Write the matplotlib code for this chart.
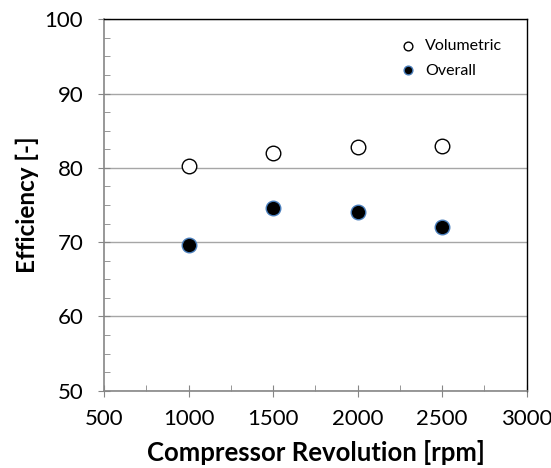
import matplotlib.pyplot as plt
from matplotlib.ticker import MultipleLocator

# data
rpm = [1000, 1500, 2000, 2500]
volumetric = [80.3, 82.0, 82.8, 83.0]
overall = [69.6, 74.6, 74.1, 72.1]

plt.rcParams['font.family'] = ['Lato', 'DejaVu Sans']

fig = plt.figure(figsize=(5.51, 4.68), dpi=100)
ax = fig.add_axes([0.189, 0.165, 0.767, 0.794])

ax.scatter(rpm, volumetric, s=110, facecolor='white', edgecolor='black',
           linewidth=1.0, label='Volumetric', zorder=3)
ax.scatter(rpm, overall, s=110, facecolor='black', edgecolor='#4a7ebb',
           linewidth=1.0, label='Overall', zorder=3)

ax.set_xlim(500, 3000)
ax.set_ylim(50, 100)
ax.xaxis.set_major_locator(MultipleLocator(500))
ax.xaxis.set_minor_locator(MultipleLocator(250))
ax.yaxis.set_major_locator(MultipleLocator(10))
ax.yaxis.set_minor_locator(MultipleLocator(2.5))

ax.grid(True, axis='y', which='major', color='#a6a6a6', linewidth=1.0)
ax.set_axisbelow(True)

for side in ['left', 'bottom']:
    ax.spines[side].set_color('#868686')
    ax.spines[side].set_linewidth(1.2)
for side in ['top', 'right']:
    ax.spines[side].set_color('black')
    ax.spines[side].set_linewidth(1.0)

ax.tick_params(which='major', direction='inout', length=8, color='#868686',
               labelsize=16)
ax.tick_params(axis='x', which='major', pad=9)
ax.tick_params(axis='y', which='major', pad=11)
ax.tick_params(which='minor', direction='in', length=4, color='#868686')

ax.set_xlabel('Compressor Revolution [rpm]', fontsize=18.5, fontweight='bold', labelpad=8)
ax.set_ylabel('Efficiency [-]', fontsize=17.5, fontweight='bold', labelpad=4)

ax.legend(loc='upper right', bbox_to_anchor=(0.98, 0.99), frameon=False,
          fontsize=11.5, handletextpad=0.1, markerscale=0.6,
          borderaxespad=0.6, labelspacing=0.65)

plt.savefig('out.png', dpi=100)
